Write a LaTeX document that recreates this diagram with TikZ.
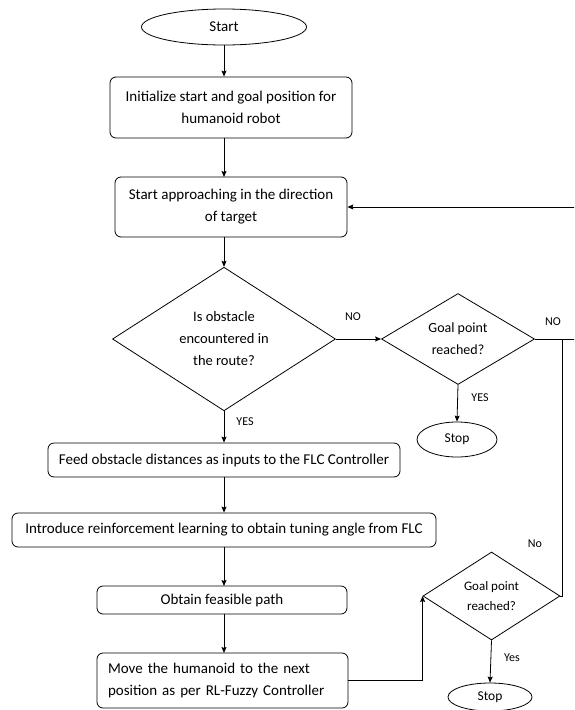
\documentclass[tikz,border=0pt]{standalone}
\usepackage{fontspec}
\setmainfont{Carlito}
\usetikzlibrary{shapes.geometric,arrows.meta}
\tikzset{
  every node/.style={font=\fontsize{15}{22}\selectfont},
  arr/.style={-{Stealth[length=6pt,width=5pt,inset=1pt]}, line width=0.8pt},
  ln/.style={line width=0.8pt},
  rbox/.style={draw, line width=0.8pt, rounded corners=6pt, inner sep=0pt, align=center},
  oval/.style={draw, line width=0.8pt, ellipse, inner sep=0pt},
  dia/.style={draw, line width=0.8pt, diamond, inner sep=0pt, align=center},
  lbl/.style={font=\fontsize{12}{14}\selectfont, inner sep=0pt}
}
\begin{document}
\begin{tikzpicture}[x=1pt,y=-1pt]
\useasboundingbox (0,0) rectangle (574,710);
\clip (0,0) rectangle (574,710);
\node[oval, minimum width=165pt, minimum height=36pt] (start) at (224,27) {Start};
\node[rbox, minimum width=242pt, minimum height=61pt] (init) at (231,107.5) {Initialize start and goal position for\\humanoid robot};
\node[rbox, minimum width=232pt, minimum height=60pt] (appr) at (231,207) {Start approaching in the direction\\of target};
\node[dia, minimum width=223pt, minimum height=132pt, font=\fontsize{14.5}{22}\selectfont] (d1) at (224,339) {Is obstacle\\encountered in\\the route?};
\node[dia, minimum width=153pt, minimum height=90pt, font=\fontsize{14}{22}\selectfont] (d2) at (458,339) {Goal point\\reached?};
\node[oval, minimum width=80pt, minimum height=35pt, font=\fontsize{13.5}{14}\selectfont] (stop1) at (457,439.5) {Stop};
\node[rbox, minimum width=352pt, minimum height=34pt] (feed) at (224,460) {Feed obstacle distances as inputs to the FLC Controller};
\node[rbox, minimum width=424pt, minimum height=34pt] (intro) at (224,530) {Introduce reinforcement learning to obtain tuning angle from FLC};
\node[rbox, minimum width=250pt, minimum height=28pt] (obt) at (222,600) {Obtain feasible path};
\node[rbox, minimum height=55pt, inner xsep=11pt, text width=229pt, align=left] (move) at (222.5,680.5) {Move the humanoid to the next\\position as per RL-Fuzzy Controller};
\node[dia, minimum width=137pt, minimum height=88pt, font=\fontsize{13}{20}\selectfont] (d3) at (491.5,596) {Goal point\\reached?};
\node[oval, minimum width=84pt, minimum height=28pt, font=\fontsize{13.5}{14}\selectfont] (stop2) at (490,697) {Stop};
\coordinate (j) at (562,339);
\coordinate (far) at (580,339);
% connectors
\draw[arr] (start.south) -- (start.south |- init.north);
\draw[arr] (224,138) -- (224,177);
\draw[arr] (224,237) -- (d1.north);
\draw[arr] (d1.east) -- (d2.west);
\draw[arr] (d2.south) -- (stop1.north);
\draw[arr] (d1.south) -- (feed.north);
\draw[arr] (feed.south) -- (intro.north);
\draw[arr] (224,547) -- (224,586);
\draw[arr] (224,614) -- (224,653);
\draw[arr] (move.east) -| (d3.west);
\draw[arr] (d3.south) -- (stop2.north);
\draw[ln] (d2.east) -- (far);
\draw[arr] (far) |- (appr.east);
\draw[ln] (d3.east) -| (j);
% labels
\node[lbl] (n1) at (353,317) {NO};
\node[lbl] (n2) at (553,322) {NO};
\node[lbl] (y1) at (480,398) {YES};
\node[lbl] (y2) at (245,422) {YES};
\node[lbl] (n3) at (535,544) {No};
\node[lbl] (y3) at (512,658) {Yes};
\end{tikzpicture}
\end{document}
